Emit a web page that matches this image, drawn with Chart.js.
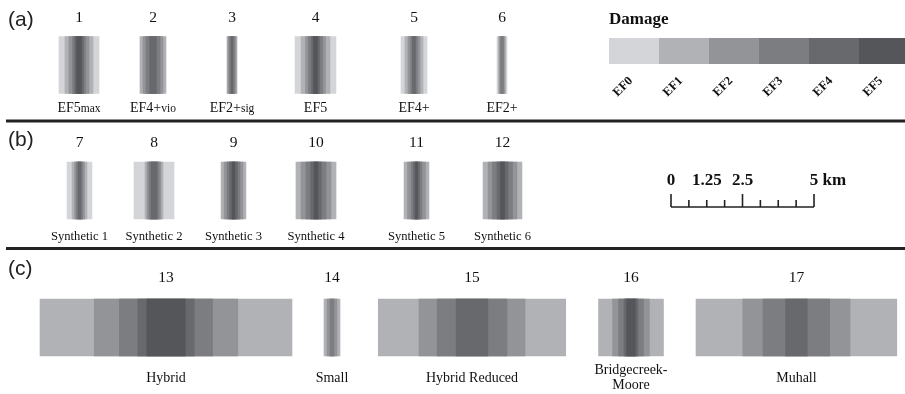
<!DOCTYPE html>
<html>
<head>
<meta charset="utf-8">
<script src="https://cdn.jsdelivr.net/npm/chart.js@4.4.1/dist/chart.umd.min.js"></script>
<style>
  html, body { margin: 0; padding: 0; background: #fff; }
  #wrap { width: 905px; height: 394px; position: relative; }
</style>
</head>
<body>
<div id="wrap"><canvas id="c"></canvas></div>
<script>
// ---- Swath catalogue ----
const swathIds   = ['1','2','3','4','5','6','7','8','9','10','11','12','13','14','15','16','17'];
const swathNames = ['EF5','EF4+','EF2+','EF5','EF4+','EF2+',
                    'Synthetic 1','Synthetic 2','Synthetic 3','Synthetic 4','Synthetic 5','Synthetic 6',
                    'Hybrid','Small','Hybrid Reduced','Bridgecreek-\nMoore','Muhall'];
const swathSubs  = ['max','vio','sig','','','','','','','','','','','','','',''];
const swathRow   = [0,0,0,0,0,0, 1,1,1,1,1,1, 2,2,2,2,2];

// Full width (km) of each damage contour across the swath; null = level not reached
const efLevels = ['EF0','EF1','EF2','EF3','EF4','EF5'];
const ef0Width = [1.40, null, null, 1.43, 0.91, 0.35, 0.87, 1.40, null, null, null, null, null, null, null, null, null];
const ef1Width = [0.98, 0.91, 0.35, 1.01, 0.63, 0.26, 0.52, 0.63, 0.87, 1.40, 0.87, 1.36, 8.81, 0.56, 6.55, 2.27, 7.02];
const ef2Width = [0.70, 0.70, 0.28, 0.70, 0.42, 0.17, 0.35, 0.49, 0.66, 1.05, 0.63, 1.01, 5.02, 0.35, 3.71, 1.29, 3.75];
const ef3Width = [0.45, 0.49, 0.17, 0.49, 0.24, 0.10, 0.21, 0.35, 0.45, 0.70, 0.38, 0.70, 3.26, 0.14, 2.44, 0.87, 2.33];
const ef4Width = [0.31, 0.24, 0.07, 0.28, 0.10, null, 0.10, 0.21, 0.28, 0.38, 0.21, 0.38, 1.97, null, 1.11, 0.49, 0.76];
const ef5Width = [0.17, null, null, 0.14, null, null, null, null, 0.10, 0.14, 0.07, 0.14, 1.34, null, null, 0.31, null];
const efWidths = [ef0Width, ef1Width, ef2Width, ef3Width, ef4Width, ef5Width];

// Scale-bar labels (km) and minor tick step
const scaleLabelsKm = [0, 1.25, 2.5, 5];
const scaleStepKm = 0.625;

// ---- Styling / layout ----
const efColors = ['#d4d5d8', '#b1b2b6', '#939498', '#7c7d81', '#68696d', '#55565a'];
const PX_PER_KM = 28.6;
const W = 905, H = 394;
const layout = {
  centerPx: [79, 153, 232, 315.5, 414, 502, 79.5, 154, 233.5, 316, 416.5, 502.5, 166, 332, 472, 631, 796.4],
  rowCenter: [65, 190.5, 327.5],
  rowThick: 57,
  numberY: [18, 143, 278],
  nameY: [108, 236, 378],
  nameSize: [14, 12.6, 14],
  panelLabels: [['(a)', 20], ['(b)', 140], ['(c)', 269]],
  separators: [121, 248.5],
  legend: { x: 609, y: 38, w: 50, h: 26, titleY: 20, labelY: 79 },
  scaleBar: { x0Px: 671, lineY: 207, majorTop: 194, minorTop: 200, textY: 185 }
};

const serif = '"Liberation Serif", "Times New Roman", serif';
const sans = '"Liberation Sans", Arial, sans-serif';

// One floating-bar dataset per damage level; higher levels are drawn over lower ones
const datasets = efLevels.map((lvl, L) => {
  const data = [];
  efWidths[L].forEach((w, i) => {
    if (w == null) return;
    const c = layout.centerPx[i] / PX_PER_KM;
    data.push({ y: layout.rowCenter[swathRow[i]], x: [c - w / 2, c + w / 2] });
  });
  return {
    label: lvl,
    data,
    backgroundColor: efColors[L],
    borderWidth: 0,
    grouped: false,
    barPercentage: 1,
    categoryPercentage: 1,
    maxBarThickness: layout.rowThick,
    order: 10 - L
  };
});

const annotations = {
  id: 'annotations',
  afterDraw(chart) {
    const ctx = chart.ctx;
    const xs = chart.scales.x;
    ctx.save();

    // panel separators
    ctx.strokeStyle = '#222';
    ctx.lineWidth = 3.2;
    layout.separators.forEach(y => {
      ctx.beginPath(); ctx.moveTo(6, y); ctx.lineTo(W, y); ctx.stroke();
    });

    // panel letters
    ctx.fillStyle = '#222';
    ctx.font = '21px ' + sans;
    ctx.textAlign = 'left';
    ctx.textBaseline = 'middle';
    layout.panelLabels.forEach(([t, y]) => ctx.fillText(t, 8, y));

    // swath numbers and captions
    swathIds.forEach((id, i) => {
      const cx = xs.getPixelForValue(layout.centerPx[i] / PX_PER_KM);
      const r = swathRow[i];
      ctx.fillStyle = '#111';
      ctx.font = '15.5px ' + serif;
      ctx.textAlign = 'center';
      ctx.textBaseline = 'middle';
      ctx.fillText(id, cx, layout.numberY[r]);

      const fs = layout.nameSize[r];
      const subFs = 11.5;
      const lines = swathNames[i].split('\n');
      const sub = swathSubs[i];
      ctx.textBaseline = 'alphabetic';
      if (lines.length === 1) {
        ctx.font = fs + 'px ' + serif;
        const mw = ctx.measureText(lines[0]).width;
        ctx.font = subFs + 'px ' + serif;
        const sw = sub ? ctx.measureText(sub).width : 0;
        const left = cx - (mw + sw) / 2;
        ctx.textAlign = 'left';
        ctx.font = fs + 'px ' + serif;
        ctx.fillText(lines[0], left, layout.nameY[r] + 4);
        if (sub) { ctx.font = subFs + 'px ' + serif; ctx.fillText(sub, left + mw, layout.nameY[r] + 4); }
      } else {
        ctx.font = fs + 'px ' + serif;
        ctx.textAlign = 'center';
        ctx.fillText(lines[0], cx, layout.nameY[r] - 4);
        ctx.fillText(lines[1], cx, layout.nameY[r] + 11);
      }
    });

    // damage legend
    const lg = layout.legend;
    ctx.fillStyle = '#111';
    ctx.font = 'bold 17px ' + serif;
    ctx.textAlign = 'left';
    ctx.textBaseline = 'middle';
    ctx.fillText('Damage', lg.x, lg.titleY);
    efLevels.forEach((lvl, L) => {
      ctx.fillStyle = efColors[L];
      ctx.fillRect(lg.x + L * lg.w, lg.y, lg.w, lg.h);
      ctx.save();
      ctx.translate(lg.x + L * lg.w + lg.w / 2 - 3, lg.labelY);
      ctx.rotate(-Math.PI / 4);
      ctx.fillStyle = '#111';
      ctx.font = 'bold 12.5px ' + serif;
      ctx.textAlign = 'right';
      ctx.textBaseline = 'middle';
      ctx.fillText(lvl, 0, 0);
      ctx.restore();
    });

    // distance scale bar, drawn on the same km axis as the swaths
    const sb = layout.scaleBar;
    const k0 = sb.x0Px / PX_PER_KM;
    const px = km => xs.getPixelForValue(k0 + km);
    const maxKm = scaleLabelsKm[scaleLabelsKm.length - 1];
    ctx.strokeStyle = '#222';
    ctx.lineWidth = 1.6;
    ctx.beginPath();
    ctx.moveTo(px(0), sb.lineY); ctx.lineTo(px(maxKm), sb.lineY);
    for (let k = 0; k <= maxKm + 1e-9; k += scaleStepKm) {
      const major = Math.abs(k % 2.5) < 1e-9 || Math.abs(k - maxKm) < 1e-9;
      ctx.moveTo(px(k), sb.lineY); ctx.lineTo(px(k), major ? sb.majorTop : sb.minorTop);
    }
    ctx.stroke();
    ctx.fillStyle = '#111';
    ctx.font = 'bold 17px ' + serif;
    ctx.textBaseline = 'alphabetic';
    scaleLabelsKm.forEach(k => {
      const t = String(k);
      if (k === maxKm) {
        const w = ctx.measureText(t).width;
        ctx.textAlign = 'left';
        ctx.fillText(t + ' km', px(k) - w / 2, sb.textY);
      } else {
        ctx.textAlign = 'center';
        ctx.fillText(t, px(k), sb.textY);
      }
    });
    ctx.restore();
  }
};

new Chart(document.getElementById('c'), {
  type: 'bar',
  data: { datasets },
  options: {
    indexAxis: 'y',
    responsive: true,
    maintainAspectRatio: false,
    animation: false,
    layout: { padding: 0 },
    scales: {
      x: { type: 'linear', min: 0, max: W / PX_PER_KM, display: false },
      y: { type: 'linear', min: 0, max: H, reverse: true, offset: false, display: false, ticks: { stepSize: H } }
    },
    plugins: { legend: { display: false }, tooltip: { enabled: false } }
  },
  plugins: [annotations]
});
</script>
</body>
</html>
